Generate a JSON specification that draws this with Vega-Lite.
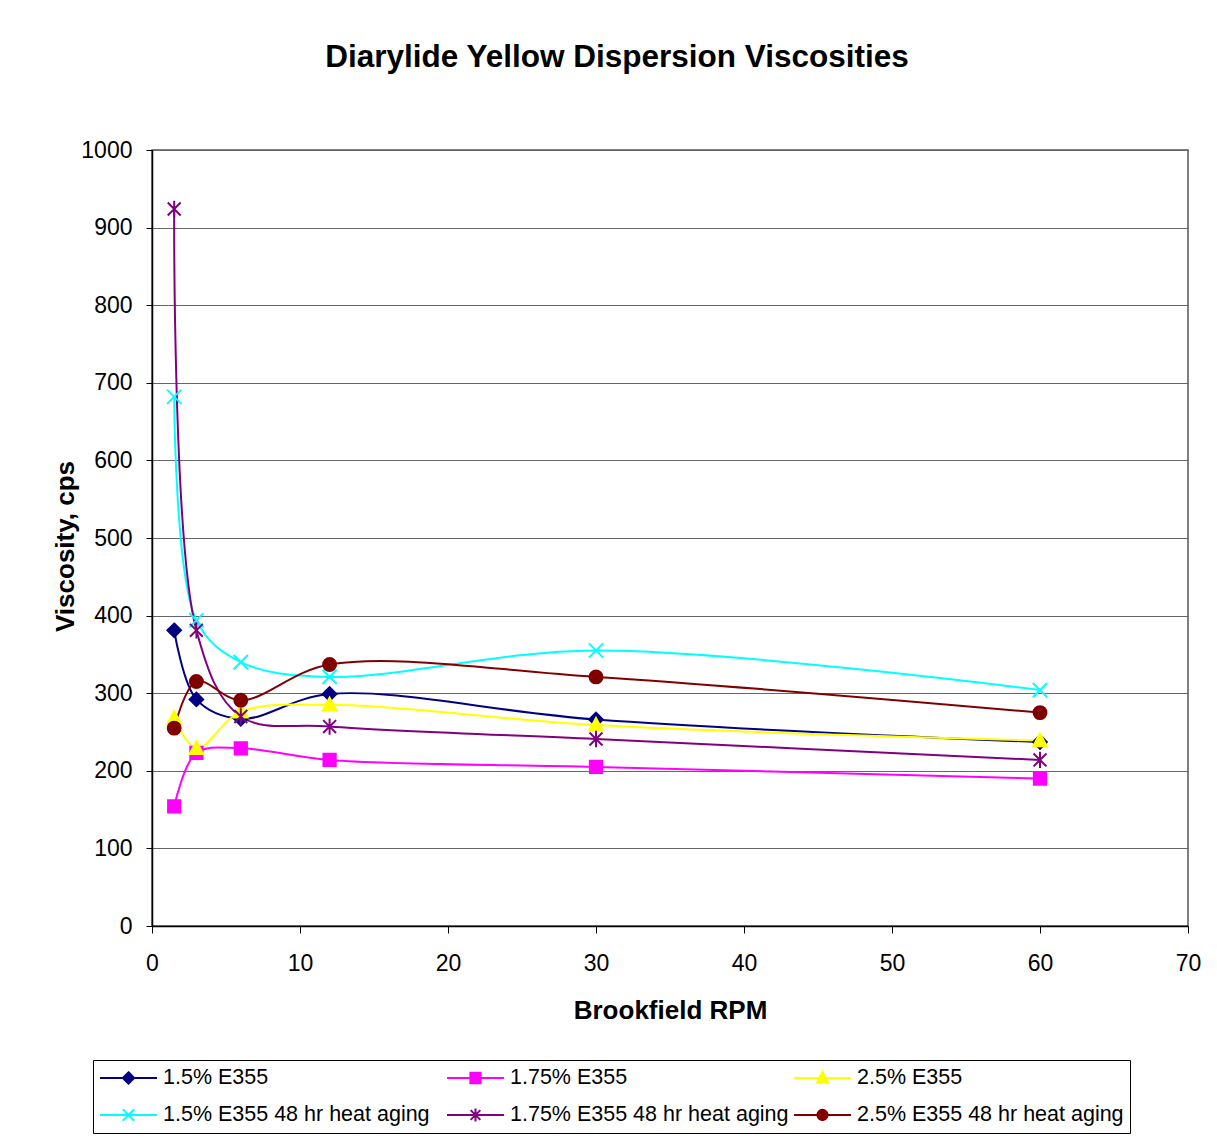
{
  "$schema": "https://vega.github.io/schema/vega-lite/v6.json",
  "autosize": {"type": "none"},
  "width": 1036,
  "height": 776,
  "padding": {"left": 152, "top": 150, "right": 29, "bottom": 217},
  "background": "white",
  "title": {
    "text": "Diarylide Yellow Dispersion Viscosities",
    "font": "Liberation Sans",
    "fontSize": 31.5,
    "fontWeight": "bold",
    "color": "black",
    "anchor": "middle",
    "frame": "group",
    "baseline": "alphabetic",
    "offset": 41,
    "dx": -53
  },
  "config": {
    "view": {"stroke": "#555555", "strokeWidth": 1.5},
    "font": "Liberation Sans",
    "legend": {
      "title": null,
      "orient": "none",
      "legendX": -59,
      "legendY": 910,
      "direction": "horizontal",
      "columns": 3,
      "gridAlign": "all",
      "columnPadding": 4,
      "rowPadding": 13,
      "padding": 6,
      "strokeColor": "black",
      "fillColor": "white",
      "symbolSize": 3249,
      "symbolStrokeWidth": 2,
      "symbolOpacity": 1,
      "clipHeight": 24,
      "labelOffset": 5,
      "labelFont": "Liberation Sans",
      "labelFontSize": 21.5,
      "labelColor": "black",
      "labelLimit": 400
    }
  },
  "data": {
    "values": [
      {"series": "1.5% E355", "rpm": 1.5, "cps": 381},
      {"series": "1.5% E355", "rpm": 3, "cps": 292},
      {"series": "1.5% E355", "rpm": 6, "cps": 267},
      {"series": "1.5% E355", "rpm": 12, "cps": 299},
      {"series": "1.5% E355", "rpm": 30, "cps": 266},
      {"series": "1.5% E355", "rpm": 60, "cps": 237},
      {"series": "1.75% E355", "rpm": 1.5, "cps": 154},
      {"series": "1.75% E355", "rpm": 3, "cps": 223},
      {"series": "1.75% E355", "rpm": 6, "cps": 229},
      {"series": "1.75% E355", "rpm": 12, "cps": 214},
      {"series": "1.75% E355", "rpm": 30, "cps": 205},
      {"series": "1.75% E355", "rpm": 60, "cps": 190},
      {"series": "2.5% E355", "rpm": 1.5, "cps": 268},
      {"series": "2.5% E355", "rpm": 3, "cps": 229},
      {"series": "2.5% E355", "rpm": 6, "cps": 276},
      {"series": "2.5% E355", "rpm": 12, "cps": 285},
      {"series": "2.5% E355", "rpm": 30, "cps": 259},
      {"series": "2.5% E355", "rpm": 60, "cps": 239},
      {"series": "1.5% E355 48 hr heat aging", "rpm": 1.5, "cps": 682},
      {"series": "1.5% E355 48 hr heat aging", "rpm": 3, "cps": 394},
      {"series": "1.5% E355 48 hr heat aging", "rpm": 6, "cps": 340},
      {"series": "1.5% E355 48 hr heat aging", "rpm": 12, "cps": 321},
      {"series": "1.5% E355 48 hr heat aging", "rpm": 30, "cps": 355},
      {"series": "1.5% E355 48 hr heat aging", "rpm": 60, "cps": 304},
      {"series": "1.75% E355 48 hr heat aging", "rpm": 1.5, "cps": 924},
      {"series": "1.75% E355 48 hr heat aging", "rpm": 3, "cps": 381},
      {"series": "1.75% E355 48 hr heat aging", "rpm": 6, "cps": 270},
      {"series": "1.75% E355 48 hr heat aging", "rpm": 12, "cps": 257},
      {"series": "1.75% E355 48 hr heat aging", "rpm": 30, "cps": 241},
      {"series": "1.75% E355 48 hr heat aging", "rpm": 60, "cps": 214},
      {"series": "2.5% E355 48 hr heat aging", "rpm": 1.5, "cps": 255},
      {"series": "2.5% E355 48 hr heat aging", "rpm": 3, "cps": 315},
      {"series": "2.5% E355 48 hr heat aging", "rpm": 6, "cps": 291},
      {"series": "2.5% E355 48 hr heat aging", "rpm": 12, "cps": 337},
      {"series": "2.5% E355 48 hr heat aging", "rpm": 30, "cps": 321},
      {"series": "2.5% E355 48 hr heat aging", "rpm": 60, "cps": 275}
    ]
  },
  "encoding": {
    "x": {
      "field": "rpm", "type": "quantitative",
      "scale": {"domain": [0, 70], "nice": false},
      "axis": {
        "title": "Brookfield RPM",
        "values": [0, 10, 20, 30, 40, 50, 60, 70],
        "grid": false,
        "domainColor": "black", "domainWidth": 1.5,
        "tickColor": "black", "tickSize": 7,
        "labelFont": "Liberation Sans", "labelFontSize": 23, "labelColor": "black",
        "labelPadding": 19, "labelFlush": false,
        "titleFont": "Liberation Sans", "titleFontSize": 26, "titleFontWeight": "bold", "titleColor": "black",
        "titleBaseline": "alphabetic", "titleY": 92, "titleX": 518, "titleAnchor": "middle"
      }
    },
    "y": {
      "field": "cps", "type": "quantitative",
      "scale": {"domain": [0, 1000], "nice": false},
      "axis": {
        "title": "Viscosity, cps",
        "values": [0, 100, 200, 300, 400, 500, 600, 700, 800, 900, 1000],
        "format": "d",
        "grid": true, "gridColor": "#666666", "gridWidth": 1.2,
        "domainColor": "black", "domainWidth": 1.5,
        "tickColor": "black", "tickSize": 6,
        "labelFont": "Liberation Sans", "labelFontSize": 23, "labelColor": "black",
        "labelPadding": 14, "labelFlush": false,
        "titleFont": "Liberation Sans", "titleFontSize": 26, "titleFontWeight": "bold", "titleColor": "black",
        "titleAngle": -90, "titleBaseline": "alphabetic", "titleAlign": "center",
        "titleX": -79, "titleY": 396
      }
    }
  },
  "layer": [
    {
      "mark": {"type": "line", "interpolate": "catmull-rom", "strokeWidth": 2},
      "encoding": {
        "color": {
          "field": "series", "type": "nominal",
          "scale": {
            "domain": ["1.5% E355", "1.75% E355", "2.5% E355", "1.5% E355 48 hr heat aging", "1.75% E355 48 hr heat aging", "2.5% E355 48 hr heat aging"],
            "range": ["#000080", "#FF00FF", "#FFFF00", "#00FFFF", "#800080", "#800000"]
          },
          "legend": null
        }
      }
    },
    {
      "mark": {"type": "point", "filled": false, "size": 185, "strokeWidth": 2, "opacity": 1},
      "encoding": {
        "color": {"field": "series", "type": "nominal", "scale": {
            "domain": ["1.5% E355", "1.75% E355", "2.5% E355", "1.5% E355 48 hr heat aging", "1.75% E355 48 hr heat aging", "2.5% E355 48 hr heat aging"],
            "range": ["#000080", "#FF00FF", "#FFFF00", "#00FFFF", "#800080", "#800000"]
          }, "legend": null},
        "fill": {"field": "series", "type": "nominal", "scale": {
            "domain": ["1.5% E355", "1.75% E355", "2.5% E355", "1.5% E355 48 hr heat aging", "1.75% E355 48 hr heat aging", "2.5% E355 48 hr heat aging"],
            "range": ["#000080", "#FF00FF", "#FFFF00", "#00FFFF", "#800080", "#800000"]
          }, "legend": null},
        "shape": {
          "field": "series", "type": "nominal",
          "scale": {
            "domain": ["1.5% E355", "1.75% E355", "2.5% E355", "1.5% E355 48 hr heat aging", "1.75% E355 48 hr heat aging", "2.5% E355 48 hr heat aging"],
            "range": [
              "M0,-1L1,0L0,1L-1,0Z",
              "M-0.9,-0.9H0.9V0.9H-0.9Z",
              "M0,-1.05L1,0.85H-1Z",
              "M-1.05,-1.05L1.05,1.05M-1.05,1.05L1.05,-1.05",
              "M-0.95,-0.95L0.95,0.95M-0.95,0.95L0.95,-0.95M0,-1.2L0,1.2",
              "M0.95,0A0.95,0.95,0,1,1,-0.95,0A0.95,0.95,0,1,1,0.95,0Z"
            ]
          },
          "legend": null
        }
      }
    },
    {
      "mark": {"type": "point", "filled": false, "opacity": 0, "size": 3249, "strokeWidth": 2},
      "encoding": {
        "color": {"field": "series", "type": "nominal", "scale": {
            "domain": ["1.5% E355", "1.75% E355", "2.5% E355", "1.5% E355 48 hr heat aging", "1.75% E355 48 hr heat aging", "2.5% E355 48 hr heat aging"],
            "range": ["#000080", "#FF00FF", "#FFFF00", "#00FFFF", "#800080", "#800000"]
          }},
        "fill": {"field": "series", "type": "nominal", "scale": {
            "domain": ["1.5% E355", "1.75% E355", "2.5% E355", "1.5% E355 48 hr heat aging", "1.75% E355 48 hr heat aging", "2.5% E355 48 hr heat aging"],
            "range": ["#000080", "#FF00FF", "#FFFF00", "#00FFFF", "#800080", "#800000"]
          }},
        "shape": {
          "field": "series", "type": "nominal",
          "scale": {
            "domain": ["1.5% E355", "1.75% E355", "2.5% E355", "1.5% E355 48 hr heat aging", "1.75% E355 48 hr heat aging", "2.5% E355 48 hr heat aging"],
            "range": [
              "M-1,0H1M0,-0.2L0.2,0L0,0.2L-0.2,0Z",
              "M-1,0H1M-0.18,-0.18H0.18V0.18H-0.18Z",
              "M-1,0H1M0,-0.22L0.2,0.17H-0.2Z",
              "M-1,0H1M-0.2,-0.2L0.2,0.2M-0.2,0.2L0.2,-0.2",
              "M-1,0H1M-0.17,-0.17L0.17,0.17M-0.17,0.17L0.17,-0.17M0,-0.23L0,0.23",
              "M-1,0H1M0.18,0A0.18,0.18,0,1,1,-0.18,0A0.18,0.18,0,1,1,0.18,0Z"
            ]
          }
        }
      }
    }
  ],
  "resolve": {"scale": {"shape": "independent", "color": "independent", "fill": "independent"}}
}
